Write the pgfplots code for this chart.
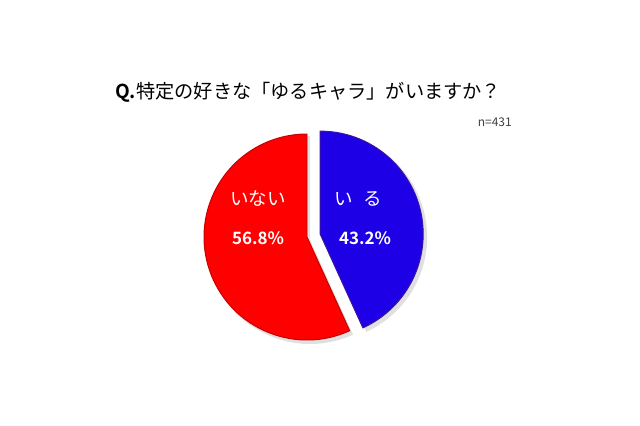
\documentclass[border=0pt]{standalone}
\usepackage{pgfplots}
\pgfplotsset{compat=1.18}
\usepackage{pgfplotstable}
\usetikzlibrary{calc}
\usepackage{fontspec}
\setmainfont{Liberation Sans}
\newfontfamily\cjk{Noto Sans CJK JP}
\newfontfamily\cjkb{Noto Sans CJK JP Bold}
\definecolor{pred}{RGB}{255,0,0}
\definecolor{predb}{RGB}{200,0,0}
\definecolor{pblue}{RGB}{30,0,230}
\definecolor{pblueb}{RGB}{60,20,160}
\pgfplotstableread{
slice value
yes 43.2
no 56.8
}\piedata
\pgfplotstablegetelem{0}{value}\of\piedata
\let\vyes\pgfplotsretval
\pgfplotstablegetelem{1}{value}\of\piedata
\let\vno\pgfplotsretval
\pgfmathsetmacro\bend{90-3.6*\vyes}
\pgfmathsetmacro\rend{\bend-3.6*\vno}
\pgfmathsetmacro\bmid{90-1.8*\vyes}
\pgfmathsetmacro\offx{13.5*cos(\bmid)}
\pgfmathsetmacro\offy{13.5*sin(\bmid)}
\begin{document}
\begin{tikzpicture}
\path[use as bounding box] (0,0) rectangle (640bp,426bp);
\begin{axis}[at={(0,0)},anchor=south west,
  width=640bp,height=426bp,scale only axis,
  xmin=0,xmax=640,ymin=0,ymax=426,y dir=reverse,
  hide axis,clip=false]
% shadows
\fill[black,opacity=0.12] ($(axis cs:307,237)+(3bp,-3bp)$) -- ++(\bend:104bp) arc[start angle=\bend,end angle=\rend,radius=104bp] -- cycle;
\fill[black,opacity=0.12] ($(axis cs:307,237)+(\offx bp+3bp,\offy bp-3bp)$) -- ++(90:104bp) arc[start angle=90,end angle=\bend,radius=104bp] -- cycle;
% red slice
\filldraw[fill=pred,draw=predb,line width=1pt] (axis cs:307,237) -- ++(\bend:103bp) arc[start angle=\bend,end angle=\rend,radius=103bp] -- cycle;
% blue slice (exploded)
\filldraw[fill=pblue,draw=pblueb,line width=1pt] ($(axis cs:307,237)+(\offx bp,\offy bp)$) -- ++(90:103bp) arc[start angle=90,end angle=\bend,radius=103bp] -- cycle;
% labels
\node[white,font=\cjk\fontsize{18.5bp}{21bp}\selectfont] at (axis cs:258,199) {いない};
\node[white,font=\cjk\fontsize{18.5bp}{21bp}\selectfont] at (axis cs:358,199) {い\hspace{0.55em}る};
\node[white,font=\cjkb\fontsize{17bp}{20bp}\selectfont] at (axis cs:258,238) {56.8\%};
\node[white,font=\cjkb\fontsize{17bp}{20bp}\selectfont] at (axis cs:365,238) {43.2\%};
% title
\node[anchor=west,inner sep=0pt,font=\cjk\fontsize{19.2bp}{22bp}\selectfont] at (axis cs:115,92) {{\cjkb Q.}特定の好きな「ゆるキャラ」がいますか？};
\node[anchor=east,inner sep=0pt,text=black!75,font=\cjk\fontsize{12bp}{14bp}\selectfont] at (axis cs:512,122) {n=431};
\end{axis}
\end{tikzpicture}
\end{document}
